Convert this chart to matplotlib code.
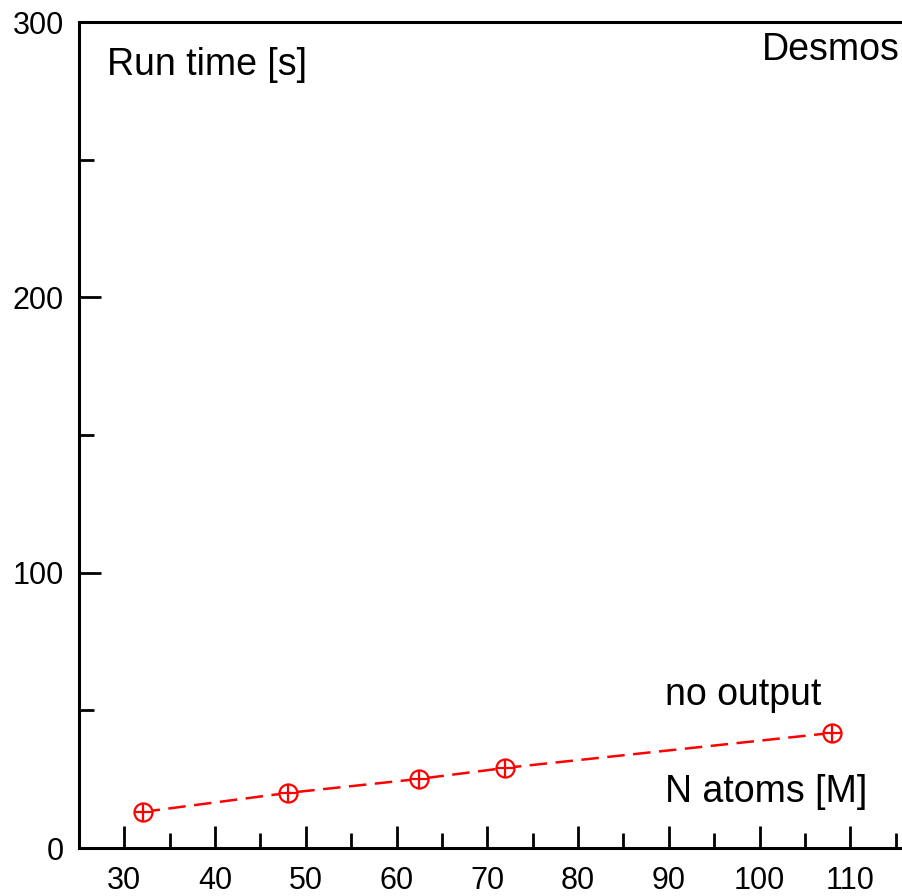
import matplotlib
matplotlib.use('Agg')
import matplotlib.pyplot as plt

# N atoms [M] vs run time [s], Desmos, no output
n_atoms = [32, 48, 62.5, 72, 108]
run_time = [13.1, 20.0, 25.1, 29.1, 41.8]

x_ticks = [30, 40, 50, 60, 70, 80, 90, 100, 110]
y_ticks = [0, 100, 200, 300]

plt.rcParams['font.family'] = ['Liberation Sans', 'DejaVu Sans']

fig = plt.figure(figsize=(9.02, 8.96), dpi=100)
ax = fig.add_axes([79 / 902, 48 / 896, 862 / 902, 826 / 896])

ax.plot(n_atoms, run_time, color='red', linestyle=(0, (7, 3.4)), linewidth=1.8)
ax.plot(n_atoms, run_time, linestyle='none', marker='o', markersize=13,
        markerfacecolor='white', markeredgecolor='red', markeredgewidth=1.6)
ax.plot(n_atoms, run_time, linestyle='none', marker='+', markersize=13,
        markeredgecolor='red', markeredgewidth=1.6)

ax.set_xlim(25, 120)
ax.set_ylim(0, 300)
ax.set_xticks(x_ticks)
ax.set_xticks([35, 45, 55, 65, 75, 85, 95, 105, 115], minor=True)
ax.set_yticks(y_ticks)
ax.set_yticks([50, 150, 250], minor=True)

for s in ax.spines.values():
    s.set_linewidth(2.2)
ax.tick_params(which='both', direction='in', width=2.0, labelsize=22)
ax.tick_params(which='major', length=15.5)
ax.tick_params(which='minor', length=10.5)
ax.tick_params(axis='x', pad=13)
ax.tick_params(axis='y', pad=11)

ax.text(28.1, 284.4, 'Run time [s]', fontsize=27, ha='left', va='center')
ax.text(115.4, 289.9, 'Desmos', fontsize=27, ha='right', va='center')
ax.text(89.6, 55.6, 'no output', fontsize=27, ha='left', va='center')
ax.text(89.6, 20.3, 'N atoms [M]', fontsize=27, ha='left', va='center')

fig.savefig('out.png', dpi=100)
